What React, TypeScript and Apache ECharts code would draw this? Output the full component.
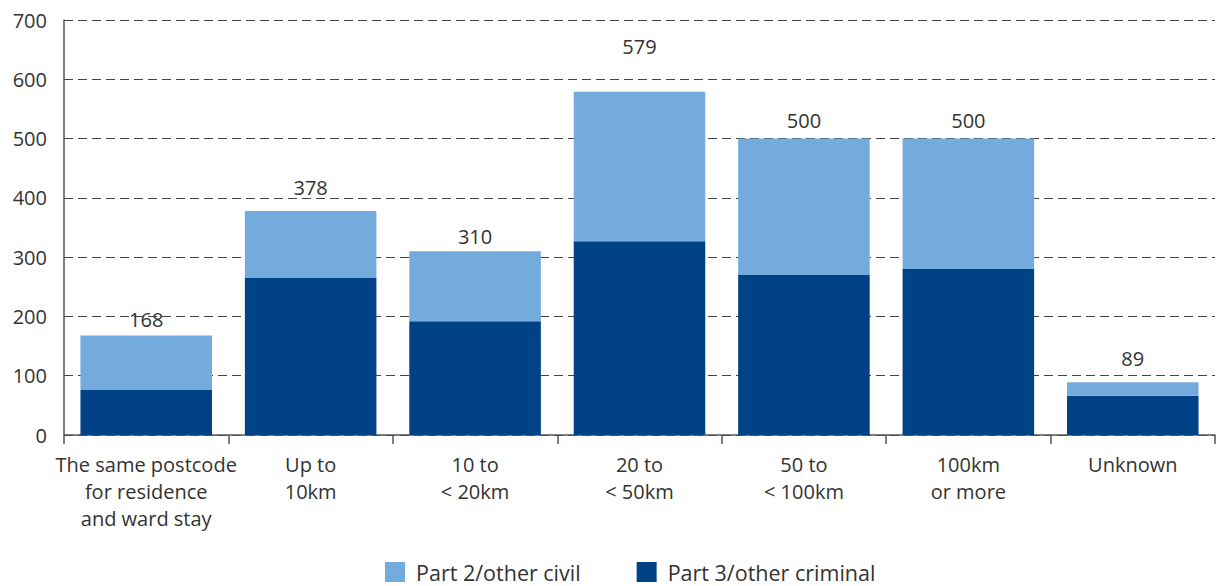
import React, { useEffect, useRef } from "react";
import * as echarts from "echarts";

const categories = [
  "The same postcode\nfor residence\nand ward stay",
  "Up to\n10km",
  "10 to\n< 20km",
  "20 to\n< 50km",
  "50 to\n< 100km",
  "100km\nor more",
  "Unknown",
];
const totals = [168, 378, 310, 579, 500, 500, 89];
const criminal = [76, 265, 192, 327, 270, 280, 66];
const civil = totals.map((t, i) => t - criminal[i]);
const labelLift = [6, 13, 5, 35, 8, 8, 14];
const yTicks = [0, 100, 200, 300, 400, 500, 600, 700];

const FONT = "'Open Sans', 'Noto Sans', sans-serif";

export default function App() {
  const ref = useRef<HTMLDivElement>(null);
  useEffect(() => {
    const chart = echarts.init(ref.current!, undefined, { renderer: "svg" });
    chart.setOption({
      animation: false,
      textStyle: { fontFamily: FONT },
      grid: { left: 64, right: 1, top: 20, bottom: 151, containLabel: false },
      legend: {
        data: ["Part 2/other civil", "Part 3/other criminal"],
        bottom: -2,
        left: 380,
        itemWidth: 20,
        itemHeight: 20,
        itemGap: 56,
        icon: "rect",
        textStyle: { fontSize: 21.5, color: "#333", fontFamily: FONT, padding: [0, 0, 0, 6] },
      },
      xAxis: {
        type: "category",
        data: categories,
        axisLine: { lineStyle: { color: "#555", width: 1.5 } },
        axisTick: { show: true, alignWithLabel: false, length: 9, lineStyle: { color: "#555", width: 1.5 } },
        axisLabel: { fontSize: 20, color: "#333", lineHeight: 27, margin: 16, fontFamily: FONT, interval: 0 },
      },
      yAxis: {
        type: "value",
        min: yTicks[0],
        max: yTicks[yTicks.length - 1],
        interval: 100,
        axisLine: { show: true, lineStyle: { color: "#555", width: 1.5 } },
        axisTick: { show: false },
        axisLabel: { fontSize: 20, color: "#333", margin: 17, fontFamily: FONT },
        splitLine: { lineStyle: { color: "#444", type: [9, 5], width: 1.2 } },
      },
      series: [
        {
          name: "Part 3/other criminal",
          type: "bar",
          stack: "total",
          barWidth: "80%",
          data: criminal,
          itemStyle: { color: "#014185" },
        },
        {
          name: "Part 2/other civil",
          type: "bar",
          stack: "total",
          barWidth: "80%",
          itemStyle: { color: "#73acdc" },
          data: civil.map((v, i) => ({
            value: v,
            label: {
              show: true,
              position: "top",
              distance: labelLift[i],
              formatter: () => String(totals[i]),
              fontSize: 20,
              color: "#333",
              fontFamily: FONT,
            },
          })),
        },
      ],
    });
    return () => chart.dispose();
  }, []);
  return <div ref={ref} style={{ width: 1216, height: 586, position: "absolute", left: 0, top: 0 }} />;
}
